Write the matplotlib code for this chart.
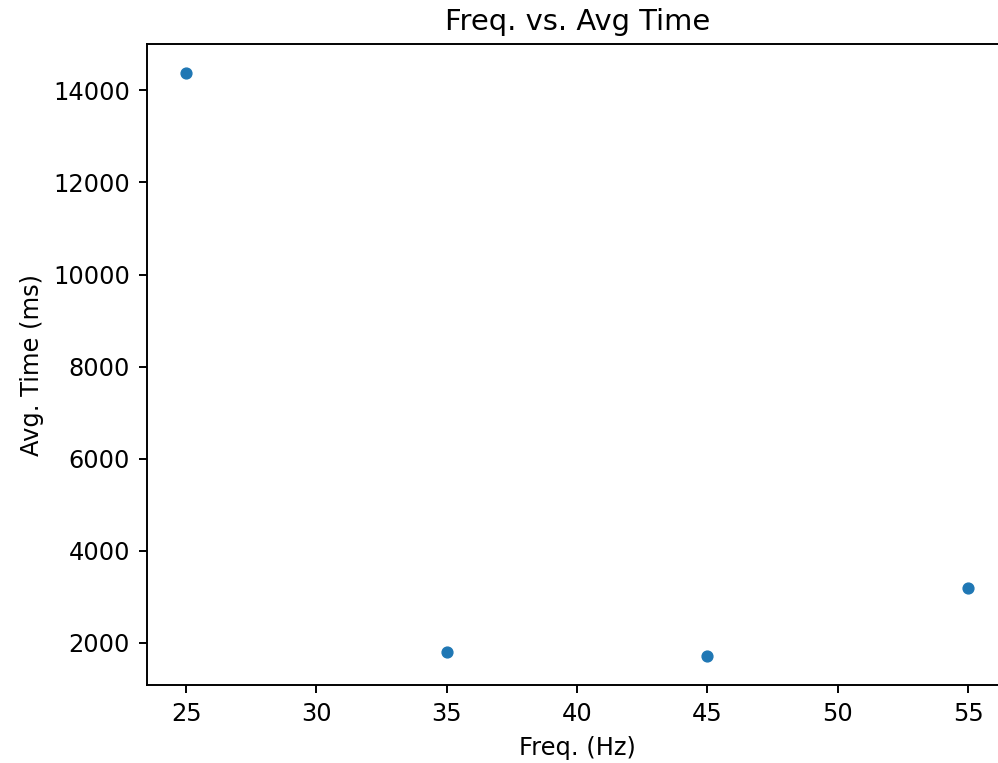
import matplotlib
matplotlib.use('Agg')
import matplotlib.pyplot as plt

# data
freqs = [25, 35, 45, 55]
avg_times = [14370, 1805, 1720, 3195]

s = 1.74  # scale of the original render
plt.rcParams['font.size'] = 10 * s
plt.rcParams['axes.linewidth'] = 0.8 * s
plt.rcParams['xtick.major.size'] = 3.5 * s
plt.rcParams['ytick.major.size'] = 3.5 * s
plt.rcParams['xtick.major.width'] = 0.8 * s
plt.rcParams['ytick.major.width'] = 0.8 * s
plt.rcParams['xtick.major.pad'] = 3.5 * s
plt.rcParams['ytick.major.pad'] = 3.5 * s
plt.rcParams['axes.titlepad'] = 6 * s
plt.rcParams['axes.labelpad'] = 4 * s

fig = plt.figure(figsize=(9.98, 7.63), dpi=100)
ax = fig.add_axes([0.1473, 0.1022, 0.862, 0.840])
ax.scatter(freqs, avg_times, s=20 * s * s)
ax.set_title('Freq. vs. Avg Time', fontsize=12 * s)
ax.set_xlabel('Freq. (Hz)')
ax.set_ylabel('Avg. Time (ms)')

fig.savefig('out.png', dpi=100)
